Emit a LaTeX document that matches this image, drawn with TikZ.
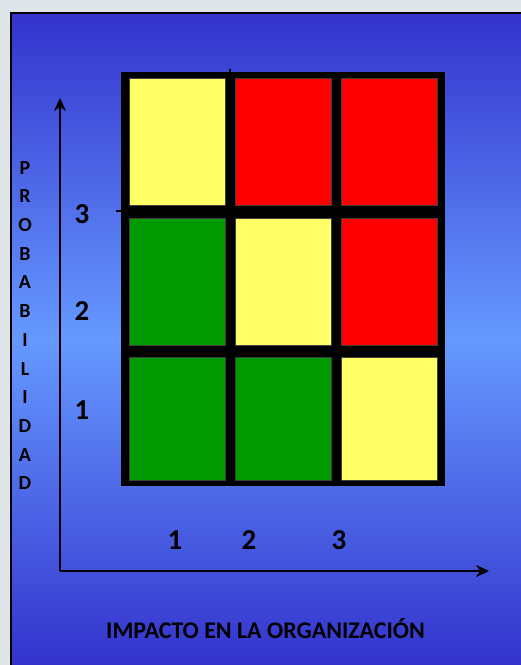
\documentclass[tikz,border=0pt]{standalone}
\usepackage{fontspec}
\setmainfont{Carlito}
\usepackage{xcolor}
\usepackage{tikz}
\usetikzlibrary{arrows.meta}
\definecolor{paper}{HTML}{DFE5E9}
\definecolor{deepblue}{RGB}{51,51,204}
\definecolor{paleblue}{RGB}{102,153,255}
\definecolor{riskyellow}{HTML}{FFFF66}
\definecolor{riskred}{HTML}{FF0000}
\definecolor{riskgreen}{HTML}{009900}

\begin{document}
\begin{tikzpicture}[x=1bp, y=-1bp, >={Stealth[length=13bp, width=12bp]},
    cell/.style={draw=black!75, line width=0.6bp, inner sep=0pt, minimum width=96bp},
    axis/.style={->, line width=2.2bp},
    num/.style={font=\bfseries\fontsize{29}{32}\selectfont},
    caption/.style={font=\bfseries\fontsize{24}{28}\selectfont}]
    \useasboundingbox (0,0) rectangle (521,665);
    % --- Grey page and shaded blue slide ---
    \fill[paper] (0,0) rectangle (521,665);
    \shade[top color=deepblue, bottom color=deepblue, middle color=paleblue]
        (11,13) rectangle (521,665);
    \draw[line width=1.5bp] (11,665) -- (11,13) -- (521,13);
    % --- Risk matrix ---
    \fill[black] (121,72) rectangle (445,486);
    \draw[line width=2bp] (116,211) -- (121,211);
    \draw[line width=2bp] (230,69) -- (230,72);
    \node[cell, fill=riskyellow, minimum height=127bp] (c13) at (177,141.5) {};
    \node[cell, fill=riskred,    minimum height=127bp] (c23) at (283.5,141.5) {};
    \node[cell, fill=riskred,    minimum height=127bp] (c33) at (389.5,141.5) {};
    \node[cell, fill=riskgreen,  minimum height=127bp] (c12) at (177,281.5) {};
    \node[cell, fill=riskyellow, minimum height=127bp] (c22) at (283.5,281.5) {};
    \node[cell, fill=riskred,    minimum height=127bp] (c32) at (389.5,281.5) {};
    \node[cell, fill=riskgreen,  minimum height=123bp] (c11) at (177,418.5) {};
    \node[cell, fill=riskgreen,  minimum height=123bp] (c21) at (283.5,418.5) {};
    \node[cell, fill=riskyellow, minimum height=123bp] (c31) at (389.5,418.5) {};
    % --- Axes ---
    \coordinate (origin) at (60,571);
    \coordinate (ytip) at (60,98);
    \coordinate (xtip) at (489,571);
    \draw[axis] (origin) -- (ytip);
    \draw[axis] (origin) -- (xtip);
    \node[num] (y3) at (82,214.5) {3};
    \node[num] (y2) at (82,311.5) {2};
    \node[num] (y1) at (82,410.5) {1};
    \node[num] (x1) at (175,540.5) {1};
    \node[num] (x2) at (249,540.5) {2};
    \node[num] (x3) at (339,540.5) {3};
    \node[align=center, inner sep=0pt, font=\bfseries\fontsize{20}{28.8}\selectfont]
        (probab) at (25,325.5) {P\\R\\O\\B\\A\\B\\I\\L\\I\\D\\A\\D};
    \node[caption, anchor=base] (impacto) at (265.5,638) {IMPACTO EN LA ORGANIZACIÓN};
\end{tikzpicture}
\end{document}
